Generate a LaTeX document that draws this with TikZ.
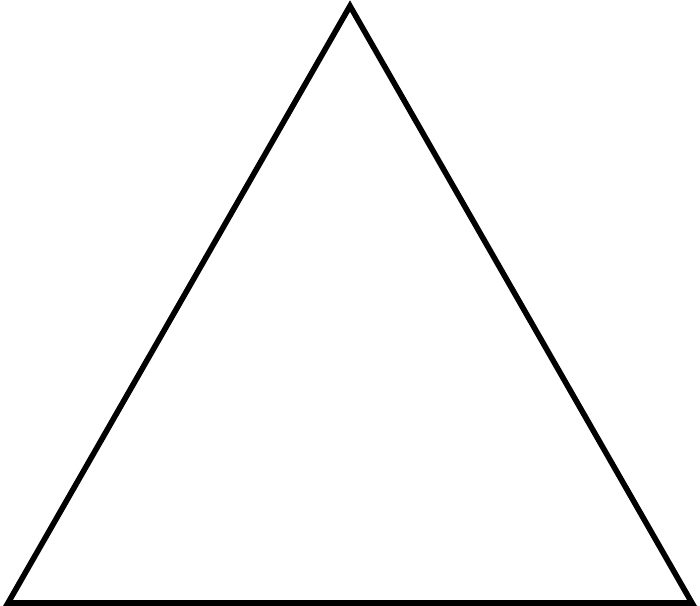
\documentclass[tikz,border=0pt]{standalone}
\usetikzlibrary{calc}

\begin{document}
\begin{tikzpicture}[scale=1]
        %%%FRAME%%%
        \useasboundingbox (0,0) rectangle (7,6.06);
        %points
        \coordinate (tl) at (0.08,0.03);
        \coordinate (tr) at (6.92,0.03);
        \coordinate (tt) at (3.5,6.00);
        %triangle
        \draw[line width=1.6pt, line join=miter] (tl)--(tr)--(tt)--cycle;
    \end{tikzpicture}
\end{document}
